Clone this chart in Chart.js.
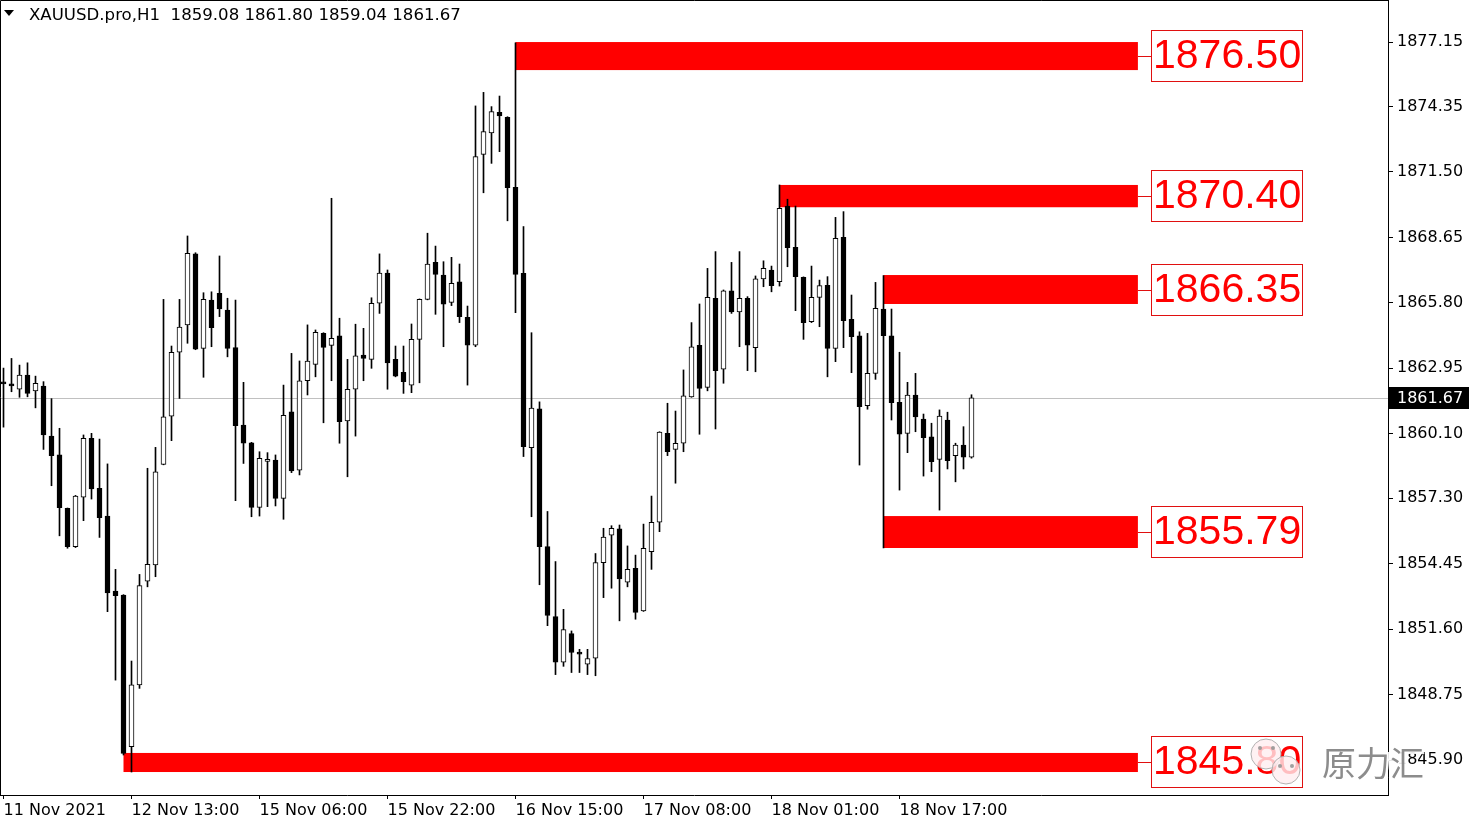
<!DOCTYPE html>
<html>
<head>
<meta charset="utf-8">
<title>XAUUSD.pro,H1</title>
<script src="https://cdn.jsdelivr.net/npm/chart.js@4.4.1/dist/chart.umd.min.js"></script>
<style>
  html, body { margin: 0; padding: 0; background: #fff; }
  #wrap { width: 1480px; height: 828px; }
</style>
</head>
<body>
<div id="wrap"><canvas id="chart" width="1480" height="828"></canvas></div>
<script>
const symbol = 'XAUUSD.pro,H1';

// hourly candles, oldest first
const openVals = [
  1862.35, 1862.27, 1862.04, 1862.66, 1861.97, 1862.18, 1860.00, 1859.18, 1856.86, 1855.19,
  1857.34, 1859.90, 1857.73, 1856.52, 1853.26, 1853.08, 1846.48, 1849.17, 1853.69, 1854.39,
  1858.77, 1860.87, 1863.65, 1864.84, 1867.93, 1863.82, 1865.92, 1866.21, 1865.49, 1863.85,
  1860.48, 1859.71, 1856.90, 1858.90, 1858.96, 1857.29, 1861.06, 1858.52, 1862.41, 1863.12,
  1864.47, 1863.95, 1864.36, 1860.66, 1862.04, 1863.53, 1863.34, 1865.78, 1867.09, 1863.34,
  1862.78, 1862.22, 1864.21, 1865.95, 1867.56, 1867.01, 1865.82, 1866.71, 1865.17, 1863.96,
  1872.26, 1873.20, 1874.09, 1873.87, 1870.83, 1867.08, 1859.50, 1861.19, 1855.19, 1852.14,
  1850.16, 1851.40, 1850.60, 1850.07, 1850.33, 1854.49, 1855.69, 1855.96, 1853.64, 1854.25,
  1852.39, 1854.97, 1856.25, 1860.12, 1859.42, 1859.69, 1861.71, 1863.95, 1862.12, 1866.00,
  1862.91, 1866.32, 1865.41, 1866.00, 1863.85, 1866.84, 1867.23, 1866.72, 1870.01, 1868.22,
  1866.91, 1864.98, 1866.04, 1866.56, 1863.82, 1868.65, 1865.08, 1864.36, 1861.32, 1862.73,
  1865.53, 1864.36, 1861.47, 1860.12, 1861.79, 1860.74, 1859.97, 1858.99, 1860.70, 1859.15,
  1859.61, 1859.08
];
const highVals = [
  1862.96, 1863.38, 1863.09, 1863.19, 1862.61, 1862.37, 1861.63, 1860.34, 1856.87, 1857.42,
  1860.05, 1860.12, 1859.87, 1858.79, 1854.20, 1853.10, 1850.21, 1853.98, 1858.60, 1859.51,
  1865.95, 1863.92, 1865.95, 1868.71, 1867.98, 1866.24, 1866.28, 1867.84, 1866.00, 1865.92,
  1862.34, 1859.73, 1859.32, 1859.28, 1859.18, 1862.22, 1863.60, 1863.27, 1864.84, 1864.62,
  1864.50, 1870.35, 1865.13, 1863.34, 1864.87, 1864.69, 1866.02, 1867.93, 1867.23, 1863.92,
  1863.92, 1864.88, 1865.97, 1868.83, 1868.27, 1867.59, 1867.78, 1867.49, 1865.66, 1874.37,
  1874.96, 1874.34, 1874.80, 1873.90, 1877.12, 1869.12, 1864.50, 1861.49, 1856.72, 1854.54,
  1852.46, 1851.52, 1850.72, 1850.72, 1854.89, 1855.99, 1856.10, 1856.13, 1855.22, 1854.82,
  1856.17, 1857.39, 1860.19, 1861.43, 1861.09, 1862.88, 1864.94, 1865.75, 1867.30, 1868.03,
  1866.36, 1867.56, 1868.03, 1866.07, 1866.97, 1867.63, 1867.40, 1870.93, 1870.31, 1870.01,
  1866.93, 1867.40, 1866.79, 1866.94, 1869.52, 1869.77, 1866.14, 1864.54, 1864.47, 1866.69,
  1866.99, 1865.53, 1863.65, 1862.34, 1862.73, 1860.96, 1860.56, 1861.14, 1861.04, 1859.69,
  1860.41, 1861.80
];
const lowVals = [
  1860.39, 1861.93, 1861.69, 1861.71, 1861.23, 1859.42, 1857.84, 1855.66, 1855.12, 1855.15,
  1856.32, 1857.26, 1855.59, 1852.36, 1849.38, 1846.12, 1845.38, 1849.02, 1853.44, 1853.88,
  1858.75, 1859.80, 1861.64, 1864.04, 1863.76, 1862.56, 1863.89, 1865.20, 1863.45, 1857.19,
  1858.81, 1856.49, 1856.52, 1856.93, 1856.96, 1856.38, 1858.41, 1858.31, 1861.79, 1862.58,
  1860.58, 1862.41, 1859.69, 1858.23, 1860.00, 1862.41, 1862.95, 1865.34, 1862.04, 1862.58,
  1861.86, 1861.89, 1862.32, 1865.93, 1865.30, 1863.89, 1865.68, 1864.94, 1862.22, 1863.89,
  1870.59, 1871.87, 1872.38, 1869.37, 1865.37, 1859.11, 1856.49, 1853.53, 1851.75, 1849.62,
  1849.98, 1849.71, 1849.71, 1849.62, 1849.57, 1852.97, 1853.38, 1851.96, 1853.44, 1852.03,
  1852.37, 1854.20, 1855.84, 1859.15, 1857.95, 1859.32, 1861.69, 1860.08, 1861.97, 1860.31,
  1862.30, 1865.34, 1863.89, 1862.85, 1862.80, 1866.50, 1866.28, 1866.53, 1867.37, 1865.46,
  1864.21, 1864.94, 1864.76, 1862.58, 1863.24, 1863.85, 1862.76, 1858.74, 1861.17, 1862.47,
  1855.13, 1860.70, 1857.65, 1859.28, 1860.19, 1858.26, 1858.45, 1856.78, 1858.57, 1858.01,
  1858.57, 1859.04
];
const closeVals = [
  1862.27, 1862.18, 1862.66, 1861.86, 1862.30, 1860.05, 1859.15, 1856.88, 1855.19, 1857.39,
  1859.90, 1857.70, 1856.45, 1853.18, 1853.05, 1846.19, 1849.17, 1853.49, 1854.42, 1858.45,
  1860.84, 1863.65, 1864.74, 1867.96, 1863.78, 1865.95, 1864.72, 1865.54, 1863.82, 1860.45,
  1859.69, 1856.90, 1859.03, 1858.99, 1857.29, 1860.90, 1858.49, 1862.41, 1863.26, 1864.52,
  1863.86, 1864.26, 1860.63, 1862.04, 1863.49, 1863.38, 1865.78, 1867.09, 1863.19, 1862.61,
  1862.37, 1864.21, 1865.95, 1867.49, 1867.04, 1865.74, 1866.65, 1865.20, 1863.96, 1872.16,
  1873.25, 1874.12, 1873.94, 1870.81, 1867.04, 1859.54, 1861.22, 1855.19, 1852.20, 1850.16,
  1851.58, 1850.58, 1850.51, 1850.32, 1854.50, 1855.60, 1855.99, 1853.78, 1854.20, 1852.33,
  1855.12, 1856.25, 1860.17, 1859.32, 1859.69, 1861.75, 1863.89, 1862.08, 1866.04, 1862.85,
  1866.32, 1865.41, 1866.00, 1863.96, 1866.84, 1867.30, 1866.55, 1869.91, 1868.20, 1866.94,
  1864.94, 1866.04, 1866.55, 1863.82, 1868.61, 1865.02, 1864.33, 1861.28, 1862.73, 1865.56,
  1864.37, 1861.45, 1860.08, 1861.79, 1860.84, 1859.93, 1858.89, 1860.87, 1858.93, 1859.61,
  1859.08, 1861.67
];

// time axis (bar index -> label)
const xTickIdx = [0, 16, 32, 48, 64, 80, 96, 112];
const xTickLabels = ['11 Nov 2021', '12 Nov 13:00', '15 Nov 06:00', '15 Nov 22:00',
  '16 Nov 15:00', '17 Nov 08:00', '18 Nov 01:00', '18 Nov 17:00'];

// price axis
const yTickValues = [1877.15, 1874.35, 1871.50, 1868.65, 1865.80, 1862.95,
  1860.10, 1857.30, 1854.45, 1851.60, 1848.75, 1845.90];

// red level zones (start bar, top, bottom, label)
const zoneStart = [64, 97, 110, 110, 15];
const zoneTop = [1877.15, 1870.93, 1867.01, 1856.52, 1846.21];
const zoneBottom = [1875.93, 1869.96, 1865.75, 1855.13, 1845.38];
const zoneLabels = ['1876.50', '1870.40', '1866.35', '1855.79', '1845.80'];
const zoneEnd = 141.8;

const last = closeVals.length - 1;
const lastPrice = closeVals[last];

const bodyData = openVals.map((o, i) => ({x: i, y: [o, closeVals[i]]}));
const wickData = lowVals.map((l, i) => ({x: i, y: [l, highVals[i]]}));
const bodyColors = openVals.map((o, i) => closeVals[i] >= o ? '#ffffff' : '#000000');

const axisFont = {family: 'DejaVu Sans', size: 16};

const overlay = {
  id: 'overlay',
  beforeDatasetsDraw(chart) {
    const {ctx, chartArea: a, scales: {x, y}} = chart;
    ctx.save();
    // last price line
    const py = Math.round(y.getPixelForValue(lastPrice)) + 0.5;
    ctx.strokeStyle = '#c0c0c0';
    ctx.lineWidth = 1;
    ctx.beginPath();
    ctx.moveTo(a.left, py);
    ctx.lineTo(a.right, py);
    ctx.stroke();
    // zones
    ctx.fillStyle = '#ff0000';
    zoneStart.forEach((s, i) => {
      const x0 = x.getPixelForValue(s);
      const x1 = x.getPixelForValue(zoneEnd);
      const y0 = y.getPixelForValue(zoneTop[i]);
      const y1 = y.getPixelForValue(zoneBottom[i]);
      ctx.fillRect(x0, y0, x1 - x0, y1 - y0);
    });
    ctx.restore();
  },
  afterDraw(chart) {
    const {ctx, chartArea: a, scales: {x, y}} = chart;
    ctx.save();

    // zone labels
    const x1 = x.getPixelForValue(zoneEnd);
    zoneStart.forEach((s, i) => {
      const mid = Math.round((y.getPixelForValue(zoneTop[i]) + y.getPixelForValue(zoneBottom[i])) / 2);
      const bx = Math.round(x1) + 13;
      ctx.strokeStyle = '#e01010';
      ctx.lineWidth = 1;
      ctx.beginPath();
      ctx.moveTo(x1, mid + 0.5);
      ctx.lineTo(bx, mid + 0.5);
      ctx.stroke();
      ctx.strokeRect(bx + 0.5, mid - 25.5, 151, 51);
      ctx.fillStyle = '#ff0000';
      ctx.font = '41px "Liberation Sans"';
      ctx.textBaseline = 'middle';
      ctx.textAlign = 'left';
      ctx.fillText(zoneLabels[i], bx + 2, mid + 1);
    });

    // frame
    ctx.strokeStyle = '#000';
    ctx.lineWidth = 1;
    ctx.beginPath();
    ctx.moveTo(a.left + 0.5, a.bottom);
    ctx.lineTo(a.left + 0.5, a.top + 0.5);
    ctx.lineTo(a.right, a.top + 0.5);
    ctx.stroke();

    // symbol header
    ctx.fillStyle = '#000';
    ctx.beginPath();
    ctx.moveTo(4, 10);
    ctx.lineTo(14, 10);
    ctx.lineTo(9, 16);
    ctx.closePath();
    ctx.fill();
    ctx.font = '16.6px "DejaVu Sans"';
    ctx.textBaseline = 'middle';
    ctx.fillText(symbol + '  ' + openVals[last].toFixed(2) + ' ' + highVals[last].toFixed(2) + ' ' +
      lowVals[last].toFixed(2) + ' ' + closeVals[last].toFixed(2), 29, 16);

    // last price tag
    const py = Math.round(y.getPixelForValue(lastPrice));
    ctx.fillStyle = '#000';
    ctx.fillRect(a.right + 1, py - 11, 80, 22);
    ctx.fillStyle = '#fff';
    ctx.font = '16px "DejaVu Sans"';
    ctx.fillText(lastPrice.toFixed(2), a.right + 9, py + 1);

    // watermark
    ctx.fillStyle = 'rgba(255,238,240,0.8)';
    ctx.strokeStyle = 'rgba(170,170,170,0.9)';
    ctx.beginPath();
    ctx.arc(1266, 754, 15, 0, Math.PI * 2);
    ctx.fill();
    ctx.stroke();
    ctx.beginPath();
    ctx.arc(1286, 770, 14, 0, Math.PI * 2);
    ctx.fill();
    ctx.stroke();
    ctx.fillStyle = 'rgba(150,150,150,0.9)';
    [[1260, 748], [1273, 748], [1280, 766], [1292, 766]].forEach(p => {
      ctx.beginPath();
      ctx.arc(p[0], p[1], 2, 0, Math.PI * 2);
      ctx.fill();
    });
    ctx.font = '34px "Noto Sans CJK SC"';
    ctx.textBaseline = 'middle';
    ctx.lineWidth = 5;
    ctx.strokeStyle = 'rgba(255,255,255,0.9)';
    ctx.strokeText('原力汇', 1322, 763);
    ctx.fillStyle = 'rgba(120,120,120,0.85)';
    ctx.fillText('原力汇', 1322, 763);

    ctx.restore();
  }
};

new Chart(document.getElementById('chart'), {
  type: 'bar',
  data: {
    datasets: [
      {
        label: 'body',
        data: bodyData,
        backgroundColor: bodyColors,
        borderColor: '#000',
        borderWidth: 1,
        borderSkipped: false,
        barThickness: 5,
        minBarLength: 2,
        grouped: false,
        order: 1
      },
      {
        label: 'wick',
        data: wickData,
        backgroundColor: '#000',
        borderWidth: 0,
        barThickness: 1,
        grouped: false,
        order: 2
      }
    ]
  },
  options: {
    responsive: false,
    animation: false,
    devicePixelRatio: 1,
    layout: {padding: 0},
    plugins: {
      legend: {display: false},
      tooltip: {enabled: false},
      title: {display: false}
    },
    scales: {
      x: {
        type: 'linear',
        offset: false,
        min: -0.4375,
        max: 173.0625,
        afterBuildTicks: (s) => { s.ticks = xTickIdx.map(v => ({value: v})); },
        afterFit: (s) => { s.height = 33; s.paddingLeft = 0; s.paddingRight = 0; },
        ticks: {
          color: '#000',
          font: axisFont,
          align: 'start',
          padding: 2,
          maxRotation: 0,
          autoSkip: false,
          callback: (v, i) => xTickLabels[i]
        },
        grid: {offset: false, drawOnChartArea: false, drawTicks: true, tickLength: 4, color: '#000'},
        border: {display: true, color: '#000'}
      },
      y: {
        position: 'right',
        min: 1844.38,
        max: 1878.98,
        afterBuildTicks: (s) => { s.ticks = yTickValues.map(v => ({value: v})); },
        afterFit: (s) => { s.width = 92; s.paddingTop = 0; s.paddingBottom = 0; },
        ticks: {
          color: '#000',
          font: axisFont,
          padding: 4,
          autoSkip: false,
          callback: (v) => v.toFixed(2)
        },
        grid: {drawOnChartArea: false, drawTicks: true, tickLength: 5, color: '#000'},
        border: {display: true, color: '#000'}
      }
    }
  },
  plugins: [overlay]
});
</script>
</body>
</html>
